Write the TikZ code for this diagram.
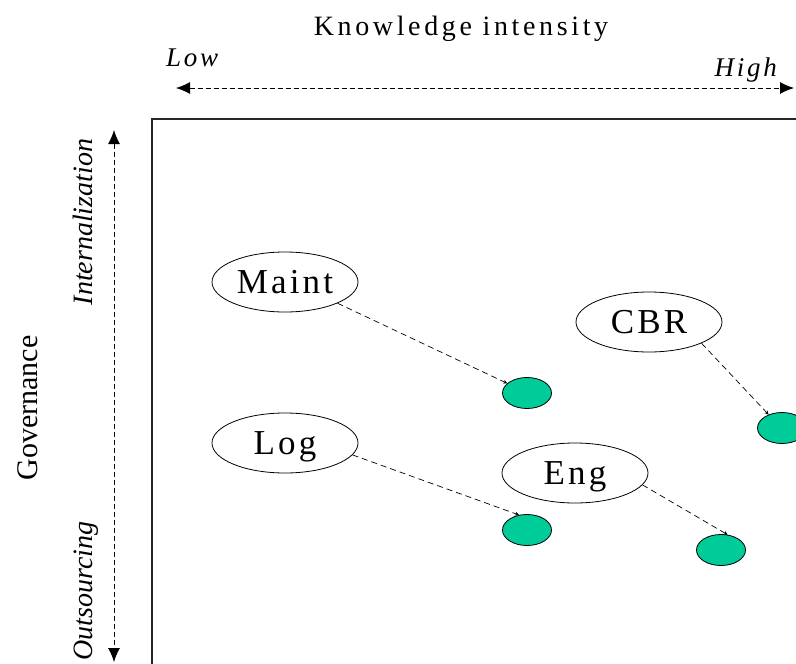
\documentclass[tikz,border=0pt]{standalone}
\usepackage{fontspec}
\setmainfont{Liberation Serif}
\usetikzlibrary{arrows.meta, shapes.geometric, positioning}
\definecolor{spotgreen}{RGB}{0,204,153}

\begin{document}
\begin{tikzpicture}[x=1pt, y=-1pt,
  area/.style={ellipse, draw, line width=0.8pt, minimum width=146pt, minimum height=60pt,
    inner sep=0pt, text height=23pt, text depth=0pt,
    font=\fontsize{35}{35}\selectfont\addfontfeatures{LetterSpace=9}},
  spot/.style={ellipse, draw, line width=0.8pt, fill=spotgreen, minimum width=49pt,
    minimum height=31pt, inner sep=0pt},
  link/.style={dash pattern=on 6pt off 4pt, line width=0.7pt, -{Stealth[length=4pt,width=4pt]}},
  axis/.style={dash pattern=on 5pt off 3pt, line width=1pt,
    {Latex[length=14pt,width=12pt]}-{Latex[length=14pt,width=12pt]}},
  tick/.style={inner sep=0pt, font=\fontsize{27}{27}\selectfont\itshape\addfontfeatures{LetterSpace=10}}]

\clip (0,0) rectangle (796,664);

% frame
\draw[line width=2pt, draw=black!85] (152,119) rectangle (830,700);

% horizontal axis
\node[inner sep=0pt, anchor=base, font=\fontsize{28}{28}\selectfont\addfontfeatures{LetterSpace=13}] (ktitle) at (461,35) {Knowledge intensity};
\node[tick, anchor=base west] (low) at (166,66) {Low};
\node[tick, anchor=base east] (high) at (777,76) {High};
\coordinate (lowend) at (176,88);
\coordinate (highend) at (794,88);
\draw[axis] (lowend) -- (highend);

% vertical axis
\node[inner sep=0pt, anchor=base, rotate=90, font=\fontsize{30}{30}\selectfont] (gov) at (37,408) {Governance};
\node[inner sep=0pt, anchor=base, rotate=90, font=\fontsize{28}{28}\selectfont\itshape] (intern) at (92,222) {Internalization};
\node[inner sep=0pt, anchor=base, rotate=90, font=\fontsize{28}{28}\selectfont\itshape] (outs) at (92,591) {Outsourcing};
\coordinate (topend) at (114,130);
\coordinate (botend) at (114,662);
\draw[axis] (topend) -- (botend);

% activities
\node[area] (maint) at (285,282) {Maint};
\node[area] (log) at (285,443) {Log};
\node[area] (cbr) at (649,322) {CBR};
\node[area] (eng) at (575,473) {Eng};

\node[spot] (maintdot) at (527,393) {};
\node[spot] (logdot) at (527,530) {};
\node[spot] (cbrdot) at (782,428) {};
\node[spot] (engdot) at (721,550) {};

\draw[link] (maint.-22) -- (maintdot.154);
\draw[link] (log.-10) -- (logdot.118);
\draw[link] (cbr.-22) -- (cbrdot.135);
\draw[link] (eng.-10) -- (engdot.67);

\end{tikzpicture}
\end{document}
